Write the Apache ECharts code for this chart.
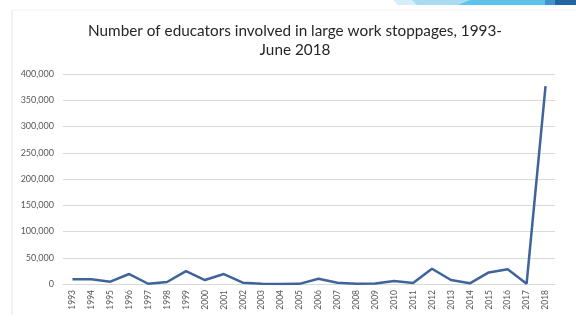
<!DOCTYPE html>
<html><head><meta charset="utf-8">
<script src="https://cdn.jsdelivr.net/npm/echarts@6/dist/echarts.min.js"></script>
<style>html,body{margin:0;padding:0;background:#fff}#c{width:576px;height:324px}</style>
</head><body><div id="c"></div>
<script>
const years = ["1993","1994","1995","1996","1997","1998","1999","2000","2001","2002","2003","2004","2005","2006","2007","2008","2009","2010","2011","2012","2013","2014","2015","2016","2017","2018"];
const educators = [9000,9000,4500,19000,500,3800,24500,7600,19000,2500,500,200,300,10000,2500,600,800,5700,1900,29000,7600,1300,22000,28000,600,377000];
const yTicks = [0,50000,100000,150000,200000,250000,300000,350000,400000];
const titleText = "Number of educators involved in large work stoppages, 1993-\nJune 2018";

const chart = echarts.init(document.getElementById('c'));
chart.setOption({
  animation:false,
  backgroundColor:'#fff',
  graphic:[
    {type:'line',shape:{x1:12,y1:10,x2:12,y2:315},style:{stroke:'#e4e4e4',lineWidth:1}},
    {type:'line',shape:{x1:12,y1:10,x2:576,y2:10},style:{stroke:'#f2f2f2',lineWidth:1}},
    {type:'polygon',shape:{points:[[393,0],[415,0],[420,5],[398,5]]},style:{fill:'#d6eef9'}},
    {type:'polygon',shape:{points:[[412,0],[470,0],[465,5],[417,5]]},style:{fill:'#a9dcf3'}},
    {type:'polygon',shape:{points:[[470,0],[545,0],[545,5],[458,5]]},style:{fill:'#5cc3ea'}},
    {type:'polygon',shape:{points:[[545,0],[555,0],[555,5],[545,5]]},style:{fill:'#3f93cf'}},
    {type:'polygon',shape:{points:[[555,0],[576,0],[576,5],[555,5]]},style:{fill:'#2166a3'}}
  ],
  title:{text:titleText,left:290,top:17,textAlign:'center',
    textStyle:{fontFamily:'Lato, Liberation Sans, sans-serif',fontSize:15.3,fontWeight:'normal',color:'#262626',lineHeight:18.5}},
  grid:{left:63,right:21,top:74,bottom:40},
  xAxis:{type:'category',data:years,boundaryGap:true,
    axisLine:{show:true,lineStyle:{color:'#d9d9d9'}},axisTick:{show:false},
    axisLabel:{rotate:90,interval:0,fontSize:8.5,color:'#595959',fontFamily:'Lato, Liberation Sans, sans-serif',margin:6}},
  yAxis:{type:'value',min:0,max:400000,interval:50000,
    axisLine:{show:false},axisTick:{show:false},
    splitLine:{lineStyle:{color:'#d9d9d9'}},
    axisLabel:{fontSize:9,color:'#595959',fontFamily:'Lato, Liberation Sans, sans-serif',margin:9,
      formatter:v=>yTicks.includes(v)?v.toLocaleString('en-US'):''}},
  series:[{type:'line',data:educators,showSymbol:false,smooth:false,
    lineStyle:{color:'#3f649b',width:2.5}}]
});
</script></body></html>
